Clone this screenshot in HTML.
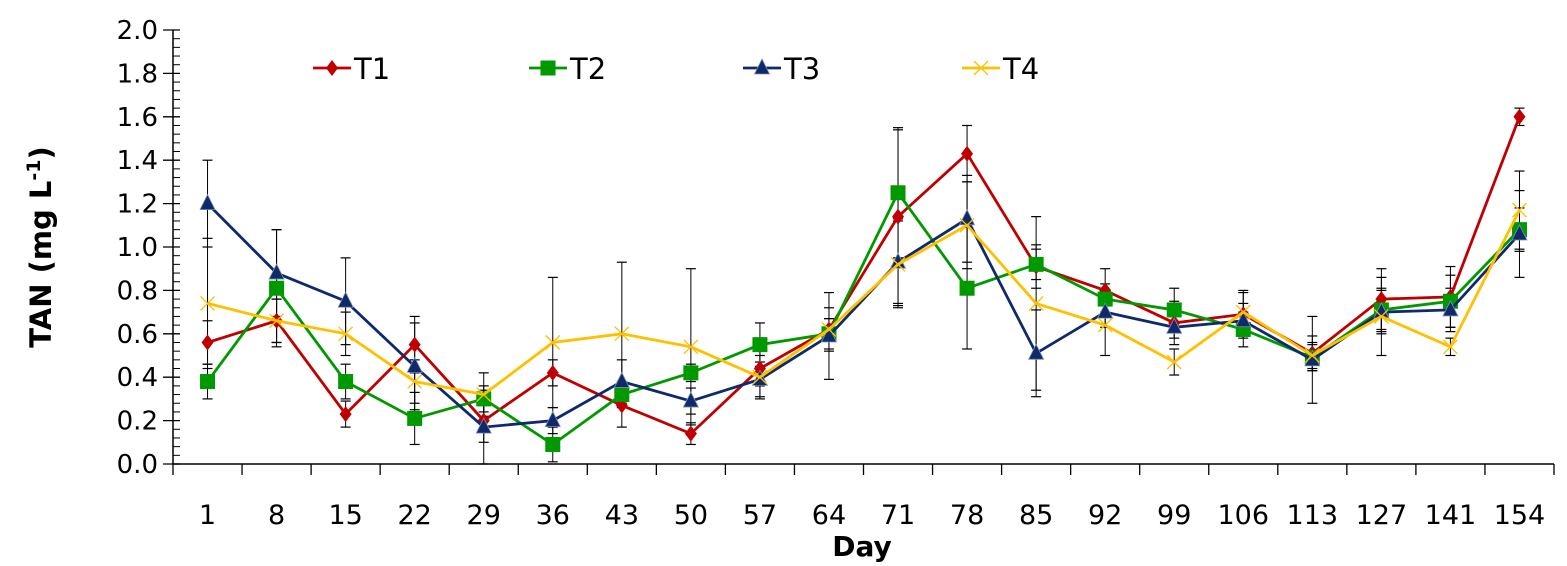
<!DOCTYPE html>
<html><head><meta charset="utf-8"><style>
html,body{margin:0;padding:0;background:#fff;}
svg{display:block;font-family:"DejaVu Sans","Liberation Sans",sans-serif;}
</style></head><body>
<svg id="chart" width="1567" height="566" viewBox="0 0 1567 566"></svg>
<script>
const categories=["1","8","15","22","29","36","43","50","57","64","71","78","85","92","99","106","113","127","141","154"];
const t1=[0.56,0.66,0.23,0.55,0.20,0.42,0.27,0.14,0.44,0.62,1.14,1.43,0.91,0.80,0.65,0.69,0.51,0.76,0.77,1.60];
const t2=[0.38,0.81,0.38,0.21,0.30,0.09,0.32,0.42,0.55,0.60,1.25,0.81,0.92,0.76,0.71,0.62,0.49,0.71,0.75,1.08];
const t3=[1.20,0.88,0.75,0.45,0.17,0.20,0.38,0.29,0.39,0.59,0.93,1.13,0.51,0.70,0.63,0.66,0.48,0.70,0.71,1.06];
const t4=[0.74,0.66,0.60,0.38,0.32,0.56,0.60,0.54,0.40,0.62,0.92,1.10,0.74,0.64,0.47,0.70,0.50,0.68,0.54,1.17];
const e1=[0.10,0.10,0.06,0.13,0.10,0.06,0.10,0.05,0.08,0.05,0.40,0.13,0.10,0.10,0.10,0.10,0.08,0.14,0.14,0.04];
const e2=[0.08,0.27,0.08,0.12,0.06,0.08,0.06,0.04,0.10,0.07,0.30,0.28,0.07,0.07,0.10,0.08,0.06,0.10,0.12,0.10];
const e3=[0.20,0.20,0.20,0.20,0.17,0.06,0.10,0.06,0.08,0.20,0.20,0.20,0.20,0.07,0.05,0.08,0.20,0.10,0.10,0.20];
const e4=[0.30,0.10,0.10,0.10,0.10,0.30,0.33,0.36,0.10,0.10,0.20,0.20,0.40,0.14,0.06,0.10,0.06,0.18,0.04,0.18];
const yTicks=["0.0","0.2","0.4","0.6","0.8","1.0","1.2","1.4","1.6","1.8","2.0"];
const seriesNames=["T1","T2","T3","T4"];

const NS="http://www.w3.org/2000/svg";
const svg=document.getElementById('chart');
const L=173,R=1554,T=30,B=464,YMAX=2.0;
const band=(R-L)/categories.length;
const xs=i=>L+band*(i+0.5);
const ys=v=>B-(v/YMAX)*(B-T);
function mk(tag,attrs,parent){const e=document.createElementNS(NS,tag);for(const k in attrs)e.setAttribute(k,attrs[k]);(parent||svg).appendChild(e);return e;}

const ax=mk('g',{});


mk('line',{x1:L,y1:T,x2:L,y2:B,stroke:'#000','stroke-width':1.5},ax);
mk('line',{x1:L,y1:B,x2:R,y2:B,stroke:'#000','stroke-width':1.5},ax);
for(let k=0;k<=50;k++){const v=k*0.04;const y=ys(v);
  if(k%5===0){mk('line',{x1:L-10,y1:y,x2:L+7,y2:y,stroke:'#000','stroke-width':1.3},ax);}
  else mk('line',{x1:L,y1:y,x2:L+7,y2:y,stroke:'#000','stroke-width':1},ax);}
yTicks.forEach(t=>{const tx=mk('text',{x:158,y:ys(parseFloat(t))+9,'text-anchor':'end','font-size':26},ax);tx.textContent=t;
  
  });
for(let i=0;i<=categories.length;i++){const x=L+band*i;mk('line',{x1:x,y1:B,x2:x,y2:B+11,stroke:'#000','stroke-width':1.3},ax);}
categories.forEach((c,i)=>{const tx=mk('text',{x:xs(i),y:524,'text-anchor':'middle','font-size':27},ax);tx.textContent=c;
  
  });
const xt=mk('text',{x:862,y:556,'text-anchor':'middle','font-size':28,'font-weight':'bold'});xt.textContent='Day';


const yt=mk('text',{x:0,y:0,'text-anchor':'middle','font-size':29,'font-weight':'bold',transform:'translate(51,247) rotate(-90)'});
yt.innerHTML='TAN (mg L<tspan dy="-11" font-size="19">-1</tspan><tspan dy="11">)</tspan>';



const colors=["#C00000","#009900","#0F2A6B","#FFC000"];
const data=[t1,t2,t3,t4], errs=[e1,e2,e3,e4];
data.forEach((d,s)=>{const g=mk('g',{});
  
  
  d.forEach((v,i)=>{const x=xs(i),y1=ys(Math.max(0,v-errs[s][i])),y2=ys(v+errs[s][i]);
    mk('line',{x1:x,y1:y1,x2:x,y2:y2,stroke:'#000','stroke-width':1},g);
    mk('line',{x1:x-5,y1:y1,x2:x+5,y2:y1,stroke:'#000','stroke-width':1.2},g);
    mk('line',{x1:x-5,y1:y2,x2:x+5,y2:y2,stroke:'#000','stroke-width':1.2},g);});});
function marker(s,x,y,g){const c=colors[s];
  if(s===0)mk('polygon',{points:`${x},${y-8} ${x+6},${y} ${x},${y+8} ${x-6},${y}`,fill:c},g);
  else if(s===1)mk('rect',{x:x-7.5,y:y-7.5,width:15,height:15,fill:c},g);
  else if(s===2)mk('polygon',{points:`${x},${y-9} ${x+7.5},${y+6} ${x-7.5},${y+6}`,fill:c,stroke:'#8090b0','stroke-width':0.8},g);
  else{mk('line',{x1:x-7,y1:y-7,x2:x+7,y2:y+7,stroke:c,'stroke-width':1.3},g);mk('line',{x1:x-7,y1:y+7,x2:x+7,y2:y-7,stroke:c,'stroke-width':1.3},g);}}
data.forEach((d,s)=>{const g=mk('g',{});
  
  
  mk('polyline',{points:d.map((v,i)=>xs(i)+','+ys(v)).join(' '),fill:'none',stroke:colors[s],'stroke-width':2.8},g);
  d.forEach((v,i)=>marker(s,xs(i),ys(v),g));});
const lx=[313,529,743,962];
seriesNames.forEach((n,s)=>{const g=mk('g',{});
  
  
  mk('line',{x1:lx[s],y1:68,x2:lx[s]+38,y2:68,stroke:colors[s],'stroke-width':2.8},g);
  marker(s,lx[s]+19,68,g);
  const t=mk('text',{x:lx[s]+41,y:79,'font-size':29},g);t.textContent=n;});
</script>
</body></html>
